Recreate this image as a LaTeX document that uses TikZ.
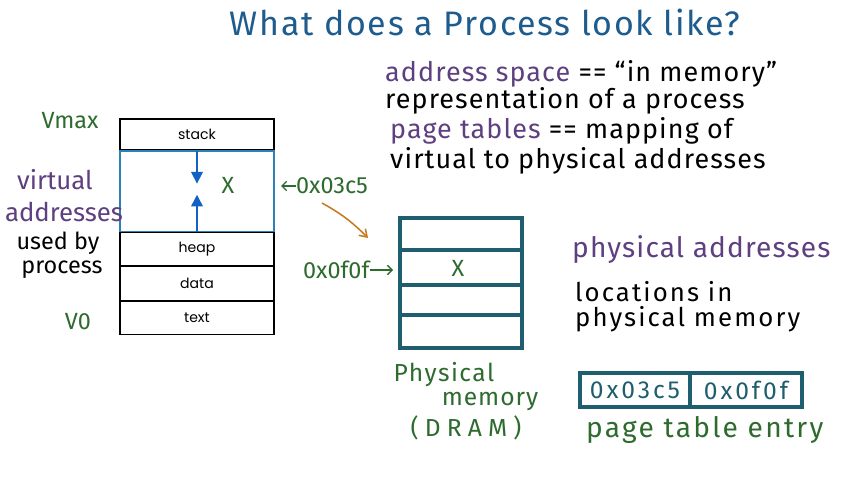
\documentclass[tikz,border=0pt]{standalone}
\usepackage{fontspec}
\setmainfont{Fira Sans}
\newfontfamily\boxfont{Poppins}
\usetikzlibrary{positioning, arrows.meta, calc}
\definecolor{inkgreen}{HTML}{2E6B2E}
\definecolor{inkpurple}{HTML}{5E3F80}
\definecolor{inkblue}{HTML}{1F5C8E}
\definecolor{inkteal}{HTML}{1E5E6E}
\definecolor{segblue}{HTML}{2F7FB8}
\definecolor{headblue}{HTML}{1262C4}
\definecolor{inkorange}{HTML}{C47A1E}

\begin{document}
\begin{tikzpicture}[
    x=0.03cm, y=-0.03cm,
    hand/.style={inner sep=0pt, anchor=west, font=\fontsize{23}{26}\selectfont\addfontfeature{LetterSpace=4}},
    note/.style={hand, text=inkgreen, font=\fontsize{20}{24}\selectfont},
    seg/.style={rectangle, draw=black, line width=1pt, minimum width=4.62cm,
                inner sep=0pt, font=\boxfont\fontsize{12}{14}\selectfont},
    frame/.style={rectangle, draw=inkteal, line width=3.4pt, inner sep=0pt},
    growarrow/.style={-{Triangle[length=10pt, width=10pt]}, headblue, line width=1.3pt},
    handarrow/.style={-{Straight Barb[length=4pt]}, inkgreen, line width=1.2pt},
    maparrow/.style={-{Straight Barb[length=6pt, width=8pt]}, inkorange, line width=1.3pt}
  ]
    \useasboundingbox[fill=white] (0,0) rectangle (852,480);

    % heading and definitions
    \node[hand, anchor=center, text=inkblue, font=\fontsize{29}{32}\selectfont\addfontfeature{LetterSpace=5}] (title) at (485,22) {What does a Process look like?};
    \node[hand] (asline) at (385,74) {{\color{inkpurple}address space} == “in memory”};
    \node[hand] (repline) at (385,101) {representation of a process};
    \node[hand] (ptline) at (390,131) {{\color{inkpurple}page tables} == mapping of};
    \node[hand] (mapline) at (390,161) {virtual to physical addresses};

    % virtual address space of the process
    \node[seg, minimum height=0.93cm] (stack) at (197,134.5) {stack};
    \node[seg, draw=segblue, minimum height=2.4cm, below=0pt of stack] (free) {};
    \node[seg, minimum height=0.99cm, below=0pt of free] (heap) {heap};
    \node[seg, minimum height=1.02cm, below=0pt of heap] (data) {data};
    \node[seg, minimum height=0.99cm, below=0pt of data] (text) {text};
    \draw[segblue, line width=1pt] (free.north west) rectangle (free.south east);
    \coordinate (stacktip) at ($(free.north)+(0,33)$);
    \coordinate (heaptip) at ($(free.south)+(0,-37)$);
    \draw[growarrow] (free.north) -- (stacktip);
    \draw[growarrow] (free.south) -- (heaptip);
    \node[note, anchor=center] (vx) at (228,185) {X};

    \node[note, anchor=center] (vmax) at (70,121) {Vmax};
    \node[note, anchor=center] (vzero) at (78,322) {V0};
    \node[hand, anchor=center, text=inkpurple, font=\fontsize{22}{26}\selectfont] (virt) at (55,180) {virtual};
    \node[hand, anchor=center, text=inkpurple, font=\fontsize{22}{26}\selectfont] (addrs) at (64,212) {addresses};
    \node[hand, anchor=center, font=\fontsize{20}{24}\selectfont] (usedby) at (58,243) {used by};
    \node[hand, anchor=center, font=\fontsize{20}{24}\selectfont] (proc) at (62,270) {process};

    \node[note] (vaddr) at (296,186) {0x03c5};
    \coordinate (vtip) at (281,186);
    \draw[handarrow] (vaddr.west) -- (vtip);

    % translation into physical memory
    \coordinate (mapstart) at (322,203);
    \coordinate (mapend) at (368,238);
    \draw[maparrow] (mapstart) to[bend left=8] (mapend);

    \node[frame, minimum width=3.66cm, minimum height=3.9cm] (dram) at (461,283) {};
    \foreach \ry in {250,285,315}
      \draw[inkteal, line width=3.4pt] (dram.west |- 0,\ry) -- (dram.east |- 0,\ry);
    \node[note, anchor=center] (px) at (458,268) {X};

    \node[note] (paddr) at (303,270) {0x0f0f};
    \coordinate (ptip) at (393,270);
    \draw[handarrow] (paddr.east) -- (ptip);

    \node[note, anchor=center, font=\fontsize{21}{24}\selectfont\addfontfeature{LetterSpace=6}] (physlbl) at (444,375) {Physical};
    \node[note, anchor=center, font=\fontsize{21}{24}\selectfont\addfontfeature{LetterSpace=4}] (memlbl) at (490,401) {memory};
    \node[note, anchor=center, font=\fontsize{21}{24}\selectfont\addfontfeature{LetterSpace=25}] (dramlbl) at (466,428) {(DRAM)};

    % physical addresses
    \node[hand, text=inkpurple, font=\fontsize{24}{28}\selectfont\addfontfeature{LetterSpace=4}] (physaddr) at (572,250) {physical addresses};
    \node[hand, font=\fontsize{22}{24}\selectfont\addfontfeature{LetterSpace=8}] (locline) at (575,292) {locations in};
    \node[hand, font=\fontsize{22}{24}\selectfont\addfontfeature{LetterSpace=8}] (memline) at (575,319) {physical memory};

    % page table entry
    \node[frame, minimum width=3.3cm, minimum height=1.02cm, text=inkteal,
          font=\fontsize{21}{22}\selectfont\addfontfeature{LetterSpace=12}] (ptev) at (635,390) {0x03c5};
    \node[frame, minimum width=3.36cm, minimum height=1.02cm, text=inkteal,
          font=\fontsize{21}{22}\selectfont\addfontfeature{LetterSpace=12}, right=-3.4pt of ptev] (ptep) {0x0f0f};
    \node[note, font=\fontsize{24}{28}\selectfont\addfontfeature{LetterSpace=8}] (ptelbl) at (586,430) {page table entry};
  \end{tikzpicture}
\end{document}
